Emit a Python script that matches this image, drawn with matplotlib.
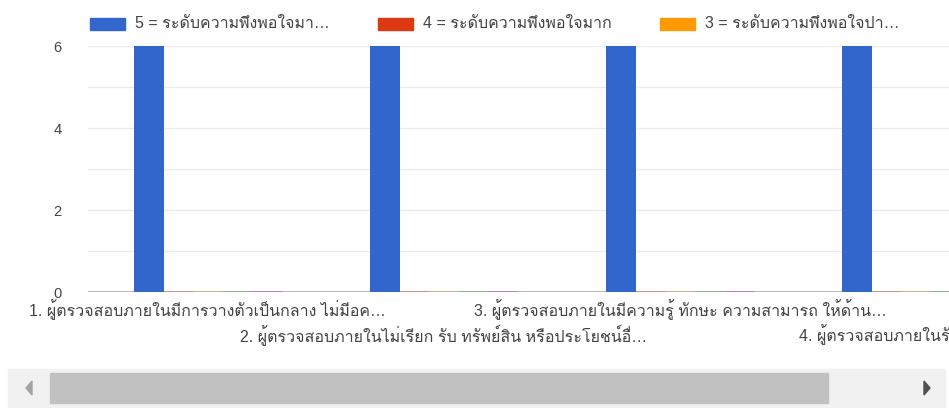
import matplotlib
matplotlib.use('Agg')
import matplotlib.pyplot as plt
import matplotlib.transforms as mtransforms
from matplotlib.patches import Rectangle, Polygon
import numpy as np

FONT = ['Liberation Sans', 'Loma']
plt.rcParams['font.family'] = FONT

categories = [
    '1. ผู้ตรวจสอบภายในมีการวางตัวเป็นกลาง ไม่มีอค…',
    '2. ผู้ตรวจสอบภายในไม่เรียก รับ ทรัพย์สิน หรือประโยชน์อื่…',
    '3. ผู้ตรวจสอบภายในมีความรู้ ทักษะ ความสามารถ ให้ด้าน…',
    '4. ผู้ตรวจสอบภายในรักษาความ…',
]
series_names = [
    '5 = ระดับความพึงพอใจมา…',
    '4 = ระดับความพึงพอใจมาก',
    '3 = ระดับความพึงพอใจปา…',
    '2 = ระดับความพึงพอใจน้อย',
    '1 = ระดับความพึงพอใจน้อยที่สุด',
]
values = [
    [6, 6, 6, 6],
    [0, 0, 0, 0],
    [0, 0, 0, 0],
    [0, 0, 0, 0],
    [0, 0, 0, 0],
]
colors = ['#3366cc', '#dc3912', '#ff9900', '#109618', '#990099']
yticks = [0, 2, 4, 6]

W, H = 949, 408
fig = plt.figure(figsize=(W / 100, H / 100), dpi=100)

def fx(px):
    return px / W

def fy(py):
    return (H - py) / H

# plot area: left 88px, y=0 at 292px, y=6 at 46px; scrolled so it runs past the right edge
ax = fig.add_axes([fx(88), fy(292), 1 - fx(88), (292 - 46) / H])
ax.set_xlim(-0.508, 3.14)
ax.set_ylim(0, 6)

x = np.arange(len(categories))
bw = 0.125
for k, (vals, c) in enumerate(zip(values, colors)):
    off = (k - 2) * bw
    for xi, v in zip(x, vals):
        if v > 0:
            ax.bar(xi + off, v, width=bw, color=c, zorder=3)
        else:
            ax.plot([xi + off - bw / 2, xi + off + bw / 2], [0, 0], color=c,
                    lw=1.2, alpha=0.35, zorder=4, solid_capstyle='butt')

for g in range(1, 7):
    ax.axhline(g, color='#ebebeb', lw=1, zorder=1)
ax.axhline(0, color='#b3b3b3', lw=2, zorder=2)

for s in ax.spines.values():
    s.set_visible(False)
ax.set_xticks([])
ax.set_yticks(yticks)
ax.tick_params(axis='y', length=0, pad=19, labelsize=10.5, labelcolor='#444444')

# staggered category labels
tr = mtransforms.blended_transform_factory(ax.transData, fig.transFigure)
for i, lab in enumerate(categories):
    row_y = 310 if i % 2 == 0 else 335
    ax.text(x[i], fy(row_y), lab, transform=tr, ha='center', va='center',
            fontsize=11.5, color='#444444', clip_on=False)

# legend (first page only)
leg_x = [90, 378, 660]
for i in range(3):
    fig.patches.append(Rectangle((fx(leg_x[i]), fy(30)), fx(35), 12 / H,
                                 transform=fig.transFigure, color=colors[i]))
    fig.text(fx(leg_x[i] + 45), fy(24), series_names[i], ha='left', va='center',
             fontsize=11.5, color='#444444')

# horizontal scrollbar
fig.patches.append(Rectangle((fx(8), 0), fx(937), 39 / H,
                             transform=fig.transFigure, color='#f1f1f1'))
fig.patches.append(Rectangle((fx(50), fy(403)), fx(778), 30 / H,
                             transform=fig.transFigure, color='#c1c1c1'))
fig.patches.append(Polygon([(fx(32), fy(381)), (fx(32), fy(395)), (fx(26), fy(388))],
                           closed=True, transform=fig.transFigure, color='#a3a3a3'))
fig.patches.append(Polygon([(fx(924), fy(381)), (fx(924), fy(395)), (fx(930), fy(388))],
                           closed=True, transform=fig.transFigure, color='#505050'))

fig.savefig('out.png', dpi=100)
